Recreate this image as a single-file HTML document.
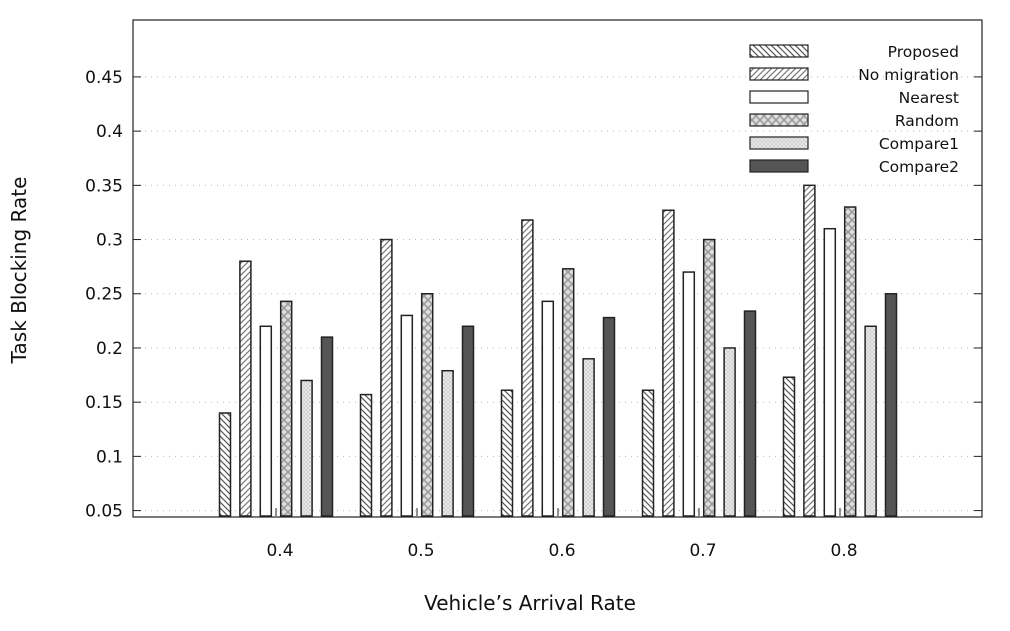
<!DOCTYPE html>
<html><head><meta charset="utf-8"><style>
body{margin:0;background:#fff;}
svg text{font-family:"DejaVu Sans","Liberation Sans",sans-serif;fill:#111;}
</style></head><body>
<svg id="c" width="1010" height="626">
<defs>
<pattern id="p0" width="6" height="6" patternUnits="userSpaceOnUse"><rect width="6" height="6" fill="#fff"/><path d="M-1,-1 L7,7 M-1,5 L1,7 M5,-1 L7,1" stroke="#555" stroke-width="1.2"/></pattern>
<pattern id="p1" width="6" height="6" patternUnits="userSpaceOnUse"><rect width="6" height="6" fill="#fff"/><path d="M-1,7 L7,-1 M-1,1 L1,-1 M5,7 L7,5" stroke="#777" stroke-width="1.2"/></pattern>
<pattern id="p3" width="8" height="8" patternUnits="userSpaceOnUse"><rect width="8" height="8" fill="#ddd"/><path d="M0,0 L8,8 M0,8 L8,0" stroke="#999" stroke-width="1.5"/></pattern>
<pattern id="p4" width="4" height="4" patternUnits="userSpaceOnUse"><rect width="4" height="4" fill="#eee"/><path d="M0,0 L4,4 M0,4 L4,0" stroke="#ccc" stroke-width="0.8"/></pattern>
</defs>
<g id="grid"></g>
<g id="bars"></g>
<rect x="133" y="20" width="849" height="497" fill="none" stroke="#222" stroke-width="1.2"/>
<g id="axes"></g>
<g id="legend"></g>
<text x="530" y="610" font-size="20" text-anchor="middle">Vehicle’s Arrival Rate</text>
<text transform="translate(26,270) rotate(-90)" font-size="20" text-anchor="middle">Task Blocking Rate</text>
</svg>
<script>
const categories=["0.4","0.5","0.6","0.7","0.8"];
const catValues=[0.4,0.5,0.6,0.7,0.8];
const seriesNames=["Proposed","No migration","Nearest","Random","Compare1","Compare2"];
const proposed=[0.14,0.157,0.161,0.161,0.173];
const noMigration=[0.28,0.30,0.318,0.327,0.35];
const nearest=[0.22,0.23,0.243,0.27,0.31];
const random=[0.243,0.25,0.273,0.30,0.33];
const compare1=[0.17,0.179,0.19,0.20,0.22];
const compare2=[0.21,0.22,0.228,0.234,0.25];
const yTicks=[0.05,0.1,0.15,0.2,0.25,0.3,0.35,0.4,0.45];
const yTickLabels=["0.05","0.1","0.15","0.2","0.25","0.3","0.35","0.4","0.45"];
const series=[proposed,noMigration,nearest,random,compare1,compare2];
const fills=["url(#p0)","url(#p1)","#fff","url(#p3)","url(#p4)","#555"];
const NS="http://www.w3.org/2000/svg";
const x=v=>135+(v-0.3)/0.6*846;
const y=v=>516-(v-0.045)/0.4575*496;
function mk(tag,attrs,parent){const e=document.createElementNS(NS,tag);for(const k in attrs)e.setAttribute(k,attrs[k]);document.getElementById(parent).appendChild(e);return e;}
yTicks.forEach((t,i)=>{
  const g=mk('line',{x1:133,x2:982,y1:y(t),y2:y(t),stroke:'#bbb','stroke-dasharray':'1,5'},'grid');
  
  
  const tk=mk('line',{x1:133,x2:141,y1:y(t),y2:y(t),stroke:'#222'},'axes');
  
  
  const tk2=mk('line',{x1:974,x2:982,y1:y(t),y2:y(t),stroke:'#222'},'axes');
  
  
  const tx=mk('text',{x:123,y:y(t)+6,'font-size':17,'text-anchor':'end'},'axes');
  tx.textContent=yTickLabels[i];
  
  
});
const bw=11,step=20.4;
categories.forEach((c,ci)=>{
  const cx=x(catValues[ci]);
  const tx=mk('text',{x:cx+4,y:556,'font-size':17,'text-anchor':'middle'},'axes');
  tx.textContent=c;
  
  
  const tk=mk('line',{x1:cx,x2:cx,y1:516,y2:508,stroke:'#222'},'axes');
  
  
  series.forEach((s,si)=>{
    const bc=cx+(si-2.5)*step;
    const r=mk('rect',{x:bc-bw/2,y:y(s[ci]),width:bw,height:516-y(s[ci]),fill:fills[si],stroke:'#222','stroke-width':1.5},'bars');
    
    
  });
});
seriesNames.forEach((n,i)=>{
  const yy=51+i*23;
  const r=mk('rect',{x:750,y:yy-6,width:58,height:12,fill:fills[i],stroke:'#222','stroke-width':1.2},'legend');
  
  
  const t=mk('text',{x:959,y:yy+6,'font-size':15.5,'text-anchor':'end'},'legend');
  t.textContent=n;
  
  
});
</script>
</body></html>
